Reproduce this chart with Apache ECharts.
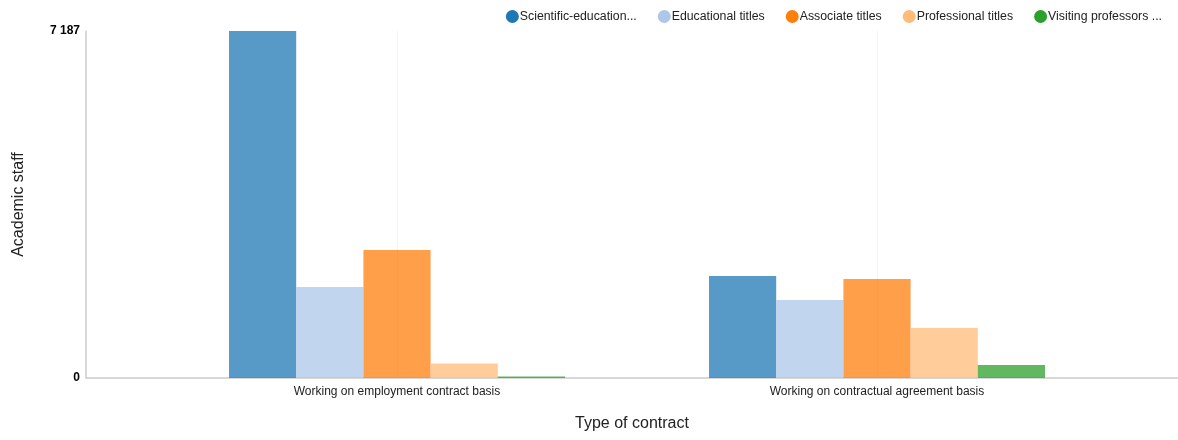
<!DOCTYPE html>
<html><head><meta charset="utf-8">
<script src="https://cdn.jsdelivr.net/npm/echarts@6/dist/echarts.min.js"></script>
<style>html,body{margin:0;padding:0;background:#fff}#c{width:1178px;height:440px}</style>
</head><body><div id="c"></div>
<script>
const categories = ['Working on employment contract basis', 'Working on contractual agreement basis'];
const seriesNames = ['Scientific-educational titles', 'Educational titles', 'Associate titles', 'Professional titles', 'Visiting professors and lecturers'];
const scientific = [7187, 2113];
const educational = [1885, 1615];
const associate = [2651, 2050];
const professional = [300, 1036];
const visiting = [30, 269];
const yTicks = [0, 7187];

const legendColors = ['#1f77b4', '#aec7e8', '#ff7f0e', '#ffbb78', '#2ca02c'];
const values = [scientific, educational, associate, professional, visiting];
const fmt = v => String(v).replace(/\B(?=(\d{3})+(?!\d))/g, ' ');

const chart = echarts.init(document.getElementById('c'));
chart.setOption({
  animation: false,
  legend: {
    top: 5, right: 11, itemWidth: 13, itemHeight: 13, itemGap: 21, icon: 'circle',
    textStyle: { fontFamily: 'Arial, Liberation Sans, sans-serif', fontSize: 12.3, color: '#222', padding: [0,0,0,-4] },
    formatter: n => n.length > 20 ? n.slice(0, 20) + '...' : n,
    data: seriesNames.map((n, i) => ({ name: n, itemStyle: { color: legendColors[i], opacity: 1 } }))
  },
  grid: [
    { left: 86, right: 0, top: 31, bottom: 62 },
    { left: 157, right: 61, top: 31, bottom: 62 }
  ],
  xAxis: [
    { gridIndex: 0, type: 'value', min: 0, max: 1, axisLabel: { show: false }, axisTick: { show: false }, splitLine: { show: false },
      axisLine: { show: true, lineStyle: { color: '#ccc', width: 1.5 } },
      name: 'Type of contract', nameLocation: 'middle', nameGap: 38,
      nameTextStyle: { fontFamily: 'Arial, Liberation Sans, sans-serif', fontSize: 16, color: '#222' } },
    { gridIndex: 1, type: 'category', data: categories, axisLine: { show: false }, axisTick: { show: false, alignWithLabel: true },
      splitLine: { show: true, alignWithLabel: true, lineStyle: { color: '#f3f3f3', width: 1 } },
      axisLabel: { fontFamily: 'Arial, Liberation Sans, sans-serif', fontSize: 12, color: '#222', margin: 8 } }
  ],
  yAxis: [
    { gridIndex: 0, type: 'value', min: yTicks[0], max: yTicks[1], interval: yTicks[1] - yTicks[0],
      axisLine: { show: true, lineStyle: { color: '#ccc', width: 1.5 } }, axisTick: { show: false }, splitLine: { show: false },
      axisLabel: { fontFamily: 'Arial, Liberation Sans, sans-serif', fontSize: 12, fontWeight: 'bold', color: '#000', margin: 6, formatter: fmt },
      name: 'Academic staff', nameLocation: 'middle', nameGap: 59, nameRotate: 90,
      nameTextStyle: { fontFamily: 'Arial, Liberation Sans, sans-serif', fontSize: 16, color: '#222' } },
    { gridIndex: 1, type: 'value', min: yTicks[0], max: yTicks[1], show: false, splitLine: { show: false } }
  ],
  series: seriesNames.map((n, i) => ({
    name: n, type: 'bar', xAxisIndex: 1, yAxisIndex: 1, data: values[i],
    barGap: '0%', barCategoryGap: '30%',
    itemStyle: { color: legendColors[i], opacity: 0.75 }
  }))
});
</script></body></html>
